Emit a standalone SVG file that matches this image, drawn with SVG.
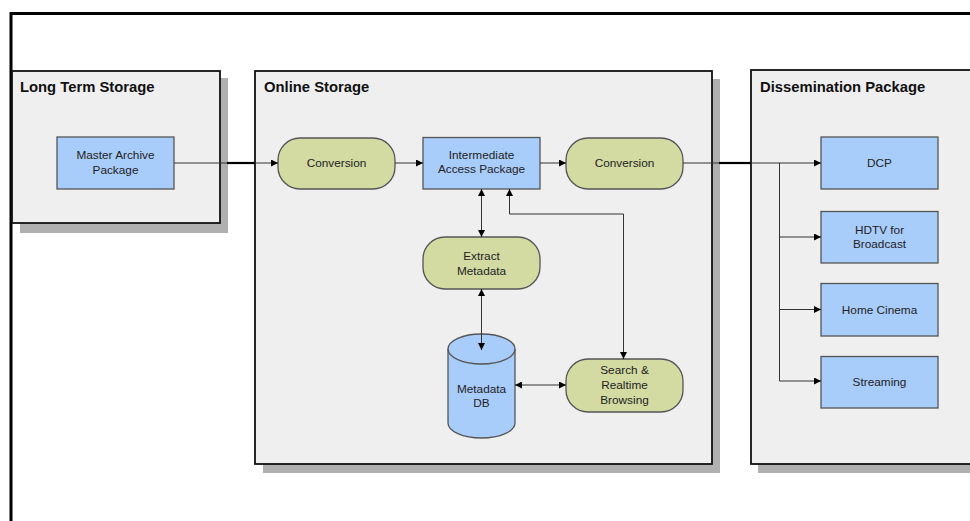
<svg xmlns="http://www.w3.org/2000/svg" width="970" height="521" viewBox="0 0 970 521">
<defs>
<marker id="ah" viewBox="0 0 10 10" refX="10" refY="5" markerWidth="8" markerHeight="7" markerUnits="userSpaceOnUse" orient="auto-start-reverse">
<path d="M0,0 L10,5 L0,10 z" fill="#000"/>
</marker>
<style>
.panel{fill:#f0eff0;stroke:#111;stroke-width:1.8}
.shadow{fill:#b0b0b0}
.ptitle{font-family:"Liberation Sans",Arial,sans-serif;font-size:14.8px;font-weight:bold;fill:#111}
.blue{fill:#a9cdfb;stroke:#555;stroke-width:1.3}
.green{fill:#d3dba3;stroke:#555;stroke-width:1.3}
.lbl{font-family:"Liberation Sans",Arial,sans-serif;font-size:11.8px;fill:#222;text-anchor:middle}
.conn{fill:none;stroke:#333;stroke-width:1}
.thick{fill:none;stroke:#000;stroke-width:2.2}
</style>
</defs>
<rect width="970" height="521" fill="#fff"/>
<!-- outer frame -->
<path d="M11,521 V13.5 H970" fill="none" stroke="#000" stroke-width="3"/>

<g id="panel-long-term">
<rect class="shadow" x="20" y="78" width="208" height="155"/>
<rect class="panel" x="12" y="71" width="208" height="152"/>
<text class="ptitle" x="20" y="92">Long Term Storage</text>
</g>
<g id="panel-online">
<rect class="shadow" x="263" y="79" width="457" height="394"/>
<rect class="panel" x="255" y="71" width="457" height="393"/>
<text class="ptitle" x="264" y="92">Online Storage</text>
</g>
<g id="panel-dissemination">
<rect class="shadow" x="758" y="79" width="230" height="394"/>
<rect class="panel" x="751" y="70" width="240" height="394"/>
<text class="ptitle" x="760" y="92">Dissemination Package</text>
</g>

<g id="master-archive">
<rect class="blue" x="57" y="137" width="117" height="52"/>
<text class="lbl" x="115.5" y="159">Master Archive</text>
<text class="lbl" x="115.5" y="174">Package</text>
</g>
<g id="conversion-1">
<rect class="green" x="278" y="138" width="117" height="51" rx="22" ry="22"/>
<text class="lbl" x="336.5" y="167">Conversion</text>
</g>
<g id="intermediate-access">
<rect class="blue" x="423" y="137.5" width="117" height="51.5"/>
<text class="lbl" x="481.5" y="159">Intermediate</text>
<text class="lbl" x="481.5" y="173">Access Package</text>
</g>
<g id="conversion-2">
<rect class="green" x="566" y="138" width="117" height="51" rx="22" ry="22"/>
<text class="lbl" x="624.5" y="167">Conversion</text>
</g>
<g id="extract-metadata">
<rect class="green" x="423" y="237" width="117" height="52" rx="22" ry="22"/>
<text class="lbl" x="481.5" y="260">Extract</text>
<text class="lbl" x="481.5" y="275">Metadata</text>
</g>
<g id="metadata-db">
<path class="blue" d="M448,349 A33.5,15 0 0 1 515,349 V423 A33.5,15 0 0 1 448,423 Z"/>
<path d="M448,349 A33.5,15 0 0 0 515,349" fill="none" stroke="#555" stroke-width="1.3"/>
<text class="lbl" x="481.5" y="393">Metadata</text>
<text class="lbl" x="481.5" y="407">DB</text>
</g>
<g id="search-browsing">
<rect class="green" x="566" y="359" width="117" height="53" rx="22" ry="22"/>
<text class="lbl" x="624.5" y="374">Search &amp;</text>
<text class="lbl" x="624.5" y="389">Realtime</text>
<text class="lbl" x="624.5" y="404">Browsing</text>
</g>
<g id="dcp">
<rect class="blue" x="821" y="137" width="117" height="52"/>
<text class="lbl" x="879.5" y="167">DCP</text>
</g>
<g id="hdtv">
<rect class="blue" x="821" y="211.5" width="117" height="51.5"/>
<text class="lbl" x="879.5" y="234">HDTV for</text>
<text class="lbl" x="879.5" y="248">Broadcast</text>
</g>
<g id="home-cinema">
<rect class="blue" x="821" y="283.5" width="117" height="52.5"/>
<text class="lbl" x="879.5" y="314">Home Cinema</text>
</g>
<g id="streaming">
<rect class="blue" x="821" y="356.5" width="117" height="51.5"/>
<text class="lbl" x="879.5" y="386">Streaming</text>
</g>

<g id="connectors">
<path class="conn" d="M174,163 H278" marker-end="url(#ah)"/>
<path class="thick" d="M227,163 H255"/>
<path class="conn" d="M395,163 H423" marker-end="url(#ah)"/>
<path class="conn" d="M540,163 H566" marker-end="url(#ah)"/>
<path class="conn" d="M683,163 H821" marker-end="url(#ah)"/>
<path class="thick" d="M719,163 H751"/>
<path class="conn" d="M779.5,163 V381"/>
<path class="conn" d="M779.5,237 H821" marker-end="url(#ah)"/>
<path class="conn" d="M779.5,309.5 H821" marker-end="url(#ah)"/>
<path class="conn" d="M779.5,381 H821" marker-end="url(#ah)"/>
<path class="conn" d="M481.5,189 V237" marker-start="url(#ah)" marker-end="url(#ah)"/>
<path class="conn" d="M509.5,189 V214 H623.5 V359" stroke="#555" marker-start="url(#ah)" marker-end="url(#ah)"/>
<path class="conn" d="M481.5,289 V350" marker-start="url(#ah)" marker-end="url(#ah)"/>
<path class="conn" d="M515,385 H566" marker-start="url(#ah)" marker-end="url(#ah)"/>
</g>
</svg>
